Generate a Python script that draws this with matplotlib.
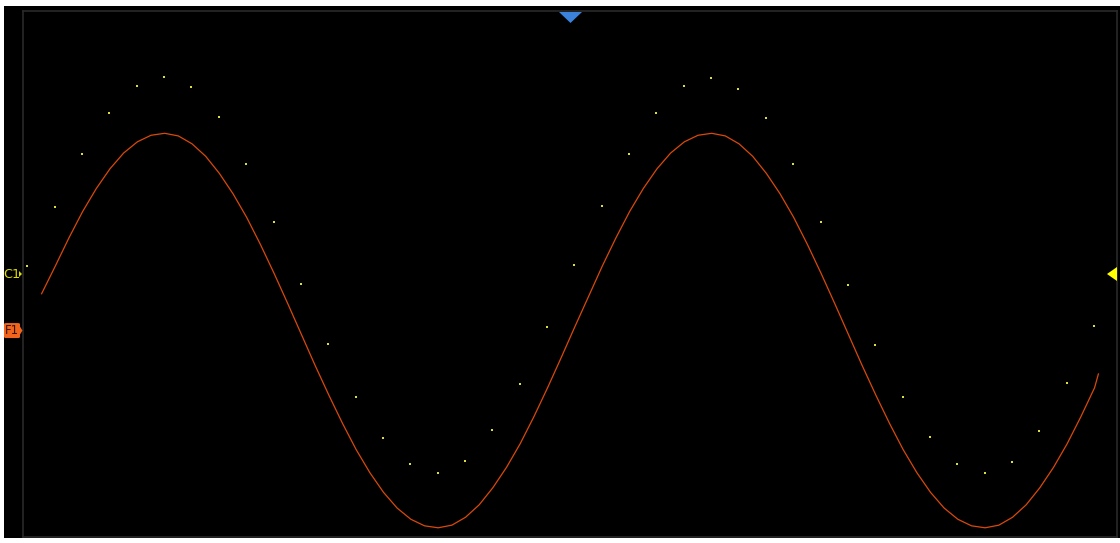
import numpy as np
import matplotlib
matplotlib.use("Agg")
import matplotlib.pyplot as plt
from matplotlib.patches import Rectangle, Polygon, FancyBboxPatch

# C1: sampled points (time in div, amplitude in div)
c1_t = [-4.96, -4.71, -4.46, -4.21, -3.96, -3.71, -3.46, -3.21, -2.96, -2.71,
        -2.46, -2.21, -1.96, -1.71, -1.46, -1.21, -0.96, -0.71, -0.46, -0.21,
        0.04, 0.29, 0.54, 0.79, 1.04, 1.29, 1.54, 1.79, 2.04, 2.29,
        2.54, 2.79, 3.04, 3.29, 3.54, 3.79, 4.04, 4.29, 4.54, 4.79]
c1_v = [0.12, 1.02, 1.83, 2.45, 2.86, 3.00, 2.84, 2.39, 1.67, 0.79,
        -0.15, -1.06, -1.87, -2.49, -2.89, -3.03, -2.84, -2.37, -1.67, -0.81,
        0.14, 1.03, 1.83, 2.45, 2.86, 2.98, 2.81, 2.37, 1.67, 0.79,
        -0.17, -1.08, -1.87, -2.48, -2.89, -3.03, -2.86, -2.39, -1.66, -0.79]

# F1: math trace, one value every 0.125 div starting at -4.83, last point at 4.83
f1_v = [-0.30, 0.12, 0.55, 0.95, 1.30, 1.60, 1.84, 2.01, 2.11, 2.14,
        2.10, 1.98, 1.79, 1.53, 1.22, 0.86, 0.45, 0.01, -0.45, -0.92,
        -1.39, -1.84, -2.27, -2.67, -3.02, -3.32, -3.56, -3.73, -3.83, -3.86,
        -3.82, -3.70, -3.51, -3.25, -2.94, -2.58, -2.17, -1.73, -1.27, -0.80,
        -0.34, 0.12, 0.55, 0.95, 1.30, 1.60, 1.84, 2.01, 2.11, 2.14,
        2.10, 1.98, 1.79, 1.53, 1.22, 0.86, 0.45, 0.01, -0.45, -0.92,
        -1.39, -1.84, -2.27, -2.67, -3.02, -3.32, -3.56, -3.73, -3.83, -3.86,
        -3.82, -3.70, -3.51, -3.25, -2.94, -2.58, -2.17, -1.73, -1.52]
f1_t = list(-4.83 + 0.125 * np.arange(len(f1_v) - 1)) + [4.83]

trig_time = 0.0
trig_level = 0.0
c1_offset = 0.0
f1_offset = -0.86

W, H = 1120, 543
fig = plt.figure(figsize=(W / 100, H / 100), dpi=100, facecolor="white")
fig.add_artist(Rectangle((4 / W, 5 / H), 1116 / W, 532 / H, transform=fig.transFigure,
                         facecolor="black", edgecolor="none", zorder=0))

ax = fig.add_axes([23 / W, 6 / H, 1094 / W, 526 / H])
ax.set_facecolor("black")
ax.set_xlim(-5, 5)
ax.set_ylim(-4, 4)
ax.set_xticks([])
ax.set_yticks([])
for s in ax.spines.values():
    s.set_color("#2a2a2a")
    s.set_linewidth(1.2)

ax.plot(f1_t, f1_v, color="#d9490b", lw=0.9, zorder=3)
ax.plot(c1_t, c1_v, ls="none", marker="s", ms=1.5, mew=0, color="#dede3a", zorder=4)

# trigger position marker (top)
px_x = 10 / 1094
px_y = 8 / 526
ax.add_patch(Polygon([[trig_time - 11 * px_x, 4 - 1 * px_y], [trig_time + 12 * px_x, 4 - 1 * px_y],
                      [trig_time + 0.5 * px_x, 4 - 12 * px_y]], closed=True,
                     facecolor="#3b82dc", edgecolor="none", clip_on=False, zorder=5))
# trigger level marker (right)
ax.add_patch(Polygon([[5 - 10 * px_x, trig_level], [5, trig_level + 7 * px_y], [5, trig_level - 7 * px_y]],
                     closed=True, facecolor="#ffff00", edgecolor="none", clip_on=False, zorder=5))

# channel labels on the left
fig.text(3.5 / W, 1 - 274 / H, "C1", color="#dcdc00", fontsize=9.2, va="center", ha="left")
ax.add_patch(Polygon([[-5 - 4 * px_x, c1_offset + 3 * px_y], [-5 - 1 * px_x, c1_offset],
                      [-5 - 4 * px_x, c1_offset - 3 * px_y]], closed=True,
                     facecolor="#dcdc00", edgecolor="none", clip_on=False, zorder=5))
fy = (H - 274 + (f1_offset * 65.75)) / H
fig.add_artist(FancyBboxPatch((4 / W, fy - 7.5 / H), 16 / W, 15 / H,
                              boxstyle="round,pad=0,rounding_size=0.002",
                              transform=fig.transFigure, facecolor="#f0641e", edgecolor="none", zorder=5))
ax.add_patch(Polygon([[-5 - 3 * px_x, f1_offset + 4 * px_y], [-5 - 0.5 * px_x, f1_offset],
                      [-5 - 3 * px_x, f1_offset - 4 * px_y]], closed=True,
                     facecolor="#f0641e", edgecolor="none", clip_on=False, zorder=5))
fig.text(11.5 / W, fy, "F1", color="#3a1400", fontsize=8.5, va="center", ha="center", zorder=6)

fig.savefig("out.png", dpi=100, facecolor="white")
